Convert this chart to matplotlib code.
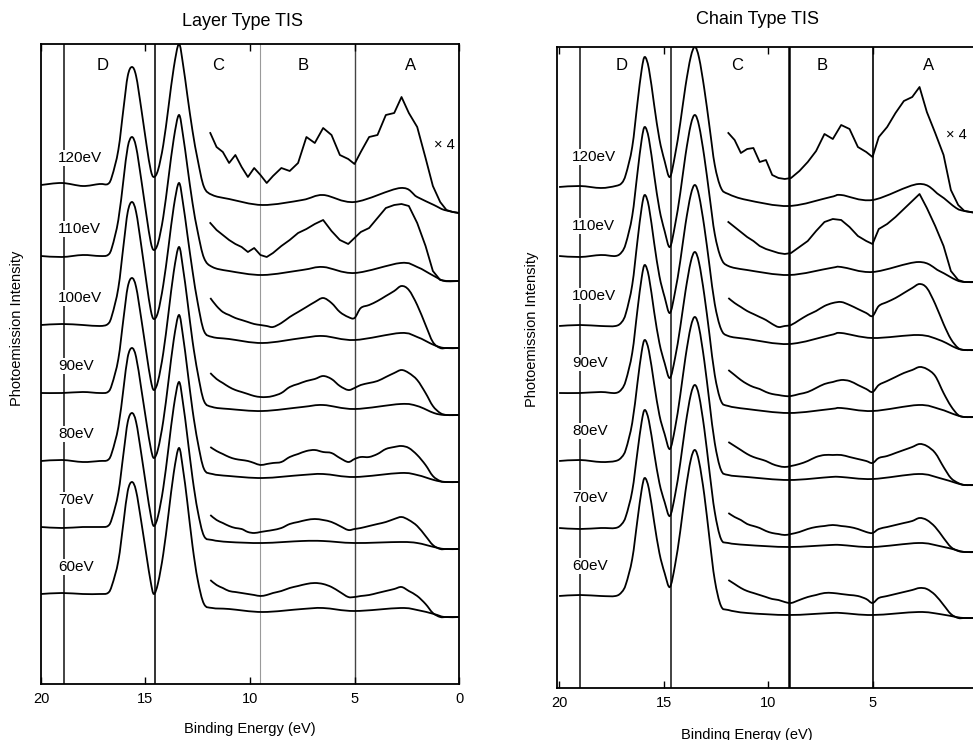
import matplotlib
import numpy as np

matplotlib.use('Agg')
import matplotlib.pyplot as plt
from matplotlib.path import Path
from matplotlib.patches import PathPatch

plt.rcParams['font.family'] = ['Liberation Sans', 'DejaVu Sans']

photon_labels = ['120eV', '110eV', '100eV', '90eV', '80eV', '70eV', '60eV']
region_labels = ['D', 'C', 'B', 'A']

# binding energy grids (eV)
layer_e = [20.0, 19.0, 18.0, 17.2, 16.8, 16.6, 16.3, 16.05, 15.85, 15.65, 15.45, 15.2,
           14.95, 14.75, 14.6, 14.4, 14.15, 13.9, 13.65, 13.4, 13.2, 13.0, 12.75, 12.5,
           12.2, 11.8, 11.0, 9.4, 7.5, 6.5, 5.0, 2.8, 2.0, 1.2, 0.7, 0.0]
chain_e = [20.0, 19.0, 18.0, 17.3, 17.0, 16.8, 16.5, 16.25, 16.05, 15.9, 15.7, 15.45,
           15.2, 14.95, 14.7, 14.45, 14.2, 13.95, 13.7, 13.5, 13.3, 13.05, 12.8, 12.55,
           12.25, 11.9, 11.0, 9.0, 7.0, 6.5, 5.0, 2.8, 1.8, 1.0, 0.6, 0.0]
x4_e = [11.9, 11.6, 11.3, 11.0, 10.7, 10.4, 10.1, 9.8, 9.5, 9.2, 8.9, 8.5, 8.1, 7.7,
        7.3, 6.9, 6.5, 6.1, 5.7, 5.3, 5.0, 4.7, 4.3, 3.9, 3.5, 3.1, 2.75, 2.4, 2.0,
        1.6, 1.25, 0.9, 0.6, 0.3, 0.0]

# stacking offsets (arb. units)
layer_offset = [499, 428, 359, 291, 223, 157, 90]
chain_offset = [501, 432, 362, 295, 227, 160, 92]

# layer type, full spectra
layer_120 = [0, 2, -1, 1, 1, 9, 35, 77, 109, 118, 109, 76, 40, 15, 8, 15, 40, 78, 117, 141,
             120, 90, 54, 25, -2, -10, -14, -20, -15, -10, -17, -3, -12, -20, -25, -28]
layer_110 = [0, -1, 1, 0, 1, 9, 36, 77, 109, 119, 109, 76, 40, 14, 6, 13, 39, 78, 117, 141,
             120, 90, 53, 24, -2, -11, -15, -19, -14, -11, -17, -7, -11, -20, -25, -25]
layer_100 = [0, 1, 0, -1, 1, 10, 37, 80, 113, 123, 113, 79, 42, 15, 6, 13, 40, 78, 118, 142,
             121, 91, 54, 22, -6, -12, -14, -18, -13, -11, -15, -8, -12, -20, -23, -23]
layer_90 = [0, 0, 1, 0, 1, 9, 34, 75, 106, 115, 106, 74, 39, 13, 3, 12, 40, 80, 121, 146,
            124, 93, 52, 20, -8, -14, -16, -18, -14, -12, -16, -11, -13, -20, -22, -22]
layer_80 = [0, 1, -1, 0, 1, 9, 34, 73, 104, 113, 104, 72, 38, 13, 3, 12, 40, 80, 121, 146,
            124, 92, 51, 19, -8, -13, -15, -17, -14, -13, -16, -12, -14, -19, -21, -21]
layer_70 = [0, -1, 0, 0, 1, 9, 34, 74, 105, 114, 105, 73, 38, 12, 1, 11, 39, 79, 120, 145,
            123, 91, 49, 16, -9, -13, -15, -16, -14, -14, -16, -15, -16, -20, -22, -22]
layer_60 = [0, 1, 0, 0, 1, 9, 33, 72, 103, 112, 103, 72, 38, 12, 0, 11, 40, 80, 121, 146,
            124, 92, 48, 14, -10, -14, -15, -18, -15, -14, -17, -14, -16, -20, -23, -23]

# layer type, valence band x4
layer_120_x4 = [52, 38, 33, 22, 30, 18, 8, 17, 10, 2, 9, 17, 14, 22, 48, 42, 57, 50, 30, 26,
                21, 33, 48, 50, 70, 72, 88, 72, 58, 27, -1, -17, -25, -27, -28]
layer_110_x4 = [33, 26, 21, 16, 12, 9, 4, 8, 1, -1, 3, 10, 16, 23, 27, 32, 36, 25, 16, 12,
                18, 24, 28, 38, 48, 51, 52, 50, 33, 10, -15, -24, -25, -25, -25]
layer_100_x4 = [27, 19, 13, 10, 7, 5, 3, 1, 0, -1, -2, 2, 8, 13, 18, 23, 27, 22, 13, 8,
                7, 17, 20, 24, 29, 34, 39, 35, 20, 0, -17, -23, -23, -23, -23]
layer_90_x4 = [20, 14, 10, 6, 3, 1, -1, -3, -4, -4, -3, 0, 6, 9, 12, 14, 17, 14, 7, 3,
               5, 8, 10, 12, 16, 20, 23, 20, 13, 0, -13, -20, -22, -22, -22]
layer_80_x4 = [14, 10, 7, 4, 2, 1, 0, -2, -4, -3, -2, -1, 4, 7, 10, 11, 9, 8, 3, -1,
               2, 4, 4, 7, 12, 14, 15, 13, 6, -4, -15, -20, -21, -21, -21]
layer_70_x4 = [12, 7, 4, 1, -1, -2, -5, -6, -5, -4, -3, -1, 3, 5, 7, 8, 7, 5, 1, -3,
               -2, -1, 1, 3, 5, 8, 10, 7, 1, -9, -18, -22, -22, -22, -22]
layer_60_x4 = [14, 9, 6, 3, 2, 1, 0, -1, -2, -1, 1, 3, 6, 8, 10, 11, 10, 7, 2, -3,
               -3, -2, -1, 1, 3, 5, 7, 3, -2, -10, -19, -23, -23, -23, -23]

# chain type, full spectra
chain_120 = [0, 1, -1, 1, 4, 13, 40, 84, 117, 130, 118, 82, 48, 26, 10, 32, 64, 101, 130, 140,
             129, 98, 60, 22, -1, -7, -13, -19, -10, -8, -13, 3, -8, -21, -24, -26]
chain_110 = [0, -1, 1, 0, 4, 13, 40, 83, 116, 129, 117, 81, 47, 25, 9, 31, 63, 101, 131, 141,
             130, 99, 60, 22, -2, -10, -14, -19, -12, -11, -16, -6, -15, -24, -26, -26]
chain_100 = [0, 1, 0, 0, 4, 13, 41, 85, 118, 131, 119, 83, 50, 29, 13, 34, 65, 102, 131, 141,
             130, 99, 60, 22, -3, -10, -13, -18, -9, -7, -12, -9, -14, -22, -24, -24]
chain_90 = [0, 0, 1, 0, 4, 13, 40, 83, 115, 128, 116, 81, 50, 30, 15, 35, 66, 102, 131, 141,
            130, 98, 58, 18, -8, -13, -16, -20, -16, -15, -18, -12, -16, -22, -24, -24]
chain_80 = [0, 1, -1, 0, 4, 12, 38, 78, 109, 121, 110, 77, 46, 27, 12, 33, 66, 104, 134, 144,
            133, 100, 58, 18, -9, -14, -16, -19, -16, -16, -18, -13, -17, -22, -24, -24]
chain_70 = [0, -1, 0, 0, 4, 12, 37, 76, 106, 118, 107, 75, 45, 26, 12, 33, 65, 103, 133, 143,
            132, 99, 56, 16, -11, -15, -17, -19, -17, -17, -19, -15, -18, -22, -24, -24]
chain_60 = [0, 1, 0, 0, 4, 12, 37, 76, 106, 118, 107, 74, 43, 23, 9, 31, 65, 105, 136, 146,
            134, 101, 57, 16, -10, -14, -17, -19, -17, -17, -19, -16, -18, -21, -22, -22]

# chain type, valence band x4
chain_120_x4 = [54, 47, 34, 38, 39, 25, 27, 12, 9, 8, 9, 16, 25, 36, 53, 48, 62, 58, 40, 35,
                30, 50, 60, 74, 86, 90, 100, 75, 54, 32, -3, -18, -24, -25, -26]
chain_110_x4 = [34, 29, 24, 19, 15, 10, 7, 5, 3, 2, 3, 9, 15, 25, 34, 37, 36, 29, 20, 15,
                12, 27, 32, 39, 47, 55, 62, 48, 30, 10, -15, -24, -26, -26, -26]
chain_100_x4 = [28, 23, 19, 15, 12, 9, 6, 2, -1, 0, 1, 6, 11, 15, 20, 23, 24, 21, 17, 13,
                10, 20, 24, 28, 33, 38, 42, 38, 22, 2, -13, -22, -24, -24, -24]
chain_90_x4 = [23, 18, 13, 9, 6, 4, 1, -1, -2, -3, -3, -1, 1, 5, 9, 11, 13, 12, 8, 4,
               1, 8, 12, 16, 20, 23, 26, 24, 17, 0, -13, -22, -24, -24, -24]
chain_80_x4 = [19, 15, 11, 7, 4, 2, 0, -3, -5, -6, -5, -3, 0, 4, 6, 6, 6, 4, 2, 0,
               -2, 3, 5, 8, 11, 14, 17, 15, 8, -6, -17, -22, -24, -24, -24]
chain_70_x4 = [15, 11, 8, 4, 2, 0, -3, -5, -6, -7, -6, -4, -1, 1, 2, 3, 2, 1, -1, -4,
               -5, -1, 1, 3, 5, 7, 10, 8, 1, -10, -19, -23, -24, -24, -24]
chain_60_x4 = [16, 12, 8, 5, 3, 1, -1, -3, -4, -6, -7, -4, -1, 1, 3, 3, 2, 1, 0, -3,
               -7, -2, 0, 2, 4, 6, 8, 7, 1, -9, -18, -22, -22, -22, -22]

# marker lines (eV)
layer_marks = [18.9, 14.55, 9.5, 5.0]
chain_marks = [19.0, 14.65, 9.0, 5.0]

layer_main = [layer_120, layer_110, layer_100, layer_90, layer_80, layer_70, layer_60]
layer_x4 = [layer_120_x4, layer_110_x4, layer_100_x4, layer_90_x4, layer_80_x4,
            layer_70_x4, layer_60_x4]
chain_main = [chain_120, chain_110, chain_100, chain_90, chain_80, chain_70, chain_60]
chain_x4 = [chain_120_x4, chain_110_x4, chain_100_x4, chain_90_x4, chain_80_x4,
            chain_70_x4, chain_60_x4]


def smooth_path(x, y):
    # bezier path through the points (catmull-rom style handles)
    x = np.asarray(x, float)
    y = np.asarray(y, float)
    n = len(x)
    verts = [(x[0], y[0])]
    codes = [Path.MOVETO]
    for i in range(n - 1):
        i0 = max(i - 1, 0)
        i3 = min(i + 2, n - 1)
        c1 = (x[i] + (x[i + 1] - x[i0]) / 6, y[i] + (y[i + 1] - y[i0]) / 6)
        c2 = (x[i + 1] - (x[i3] - x[i]) / 6, y[i + 1] - (y[i3] - y[i]) / 6)
        verts += [c1, c2, (x[i + 1], y[i + 1])]
        codes += [Path.CURVE4] * 3
    return Path(verts, codes)


fig = plt.figure(figsize=(9.73, 7.40), dpi=100)
ax1 = fig.add_axes([41 / 973, 1 - 684 / 740, 418 / 973, 640 / 740])
ax2 = fig.add_axes([557 / 973, 1 - 688 / 740, 420 / 973, 641 / 740])


def draw(ax, e, mains, x4s, offsets, marks, mark_styles, letter_x, letter_y,
         lab_x, lab_dy, x4_pos):
    for x, (c, w) in zip(marks, mark_styles):
        ax.axvline(x, color=c, lw=w, zorder=1)
    for k, (main, x4, off) in enumerate(zip(mains, x4s, offsets)):
        ax.add_patch(PathPatch(smooth_path(e, np.array(main) + off), fill=False,
                               edgecolor='black', lw=1.3, zorder=2))
        if k < 2:
            # noisy high-energy traces stay jagged
            ax.plot(x4_e, np.array(x4) + off, color='black', lw=1.3, zorder=2)
        else:
            ax.add_patch(PathPatch(smooth_path(x4_e, np.array(x4) + off), fill=False,
                                   edgecolor='black', lw=1.3, zorder=2))
    for lab, off in zip(photon_labels, offsets):
        ax.text(lab_x, off + lab_dy, lab, fontsize=11, ha='left', va='center',
                zorder=3, bbox=dict(facecolor='white', edgecolor='none', pad=1))
    for lab, x in zip(region_labels, letter_x):
        ax.text(x, letter_y, lab, fontsize=12, ha='center', va='center')
    ax.text(x4_pos[0], x4_pos[1], '× 4', fontsize=10.5, ha='center', va='center')
    ax.set_yticks([])
    ax.tick_params(axis='x', direction='in', top=True, length=5, width=1,
                   pad=6, labelsize=10.5)
    for s in ax.spines.values():
        s.set_linewidth(1.3)
    ax.set_ylabel('Photoemission Intensity', fontsize=10.5)
    ax.set_xlabel('Binding Energy (eV)', fontsize=10.5)


draw(ax1, layer_e, layer_main, layer_x4, layer_offset, layer_marks,
     [('#222222', 1.2), ('#111111', 1.2), ('#9a9a9a', 0.8), ('#444444', 1.0)],
     [17.03, 11.53, 7.46, 2.34], 619, 19.19, 27, (0.72, 539))
ax1.set_xlim(20, 0)
ax1.set_ylim(0, 640)
ax1.set_xticks([20, 15, 10, 5, 0])
ax1.yaxis.set_label_coords(-0.041, 0.555)
ax1.xaxis.set_label_coords(0.5, -0.059)

draw(ax2, chain_e, chain_main, chain_x4, chain_offset, chain_marks,
     [('#222222', 1.2), ('#222222', 1.2), ('#000000', 1.8), ('#000000', 1.2)],
     [16.99, 11.48, 7.42, 2.34], 623, 19.38, 30, (1.0, 553))
ax2.set_xlim(20.1, 0)
ax2.set_ylim(0, 641)
ax2.set_xticks([20, 15, 10, 5])
ax2.yaxis.set_label_coords(-0.043, 0.56)
ax2.xaxis.set_label_coords(0.452, -0.062)

fig.text(243 / 973, 1 - 22 / 740, 'Layer Type TIS', fontsize=13, ha='center', va='center')
fig.text(758 / 973, 1 - 20 / 740, 'Chain Type TIS', fontsize=13, ha='center', va='center')

fig.savefig('out.png', dpi=100)
